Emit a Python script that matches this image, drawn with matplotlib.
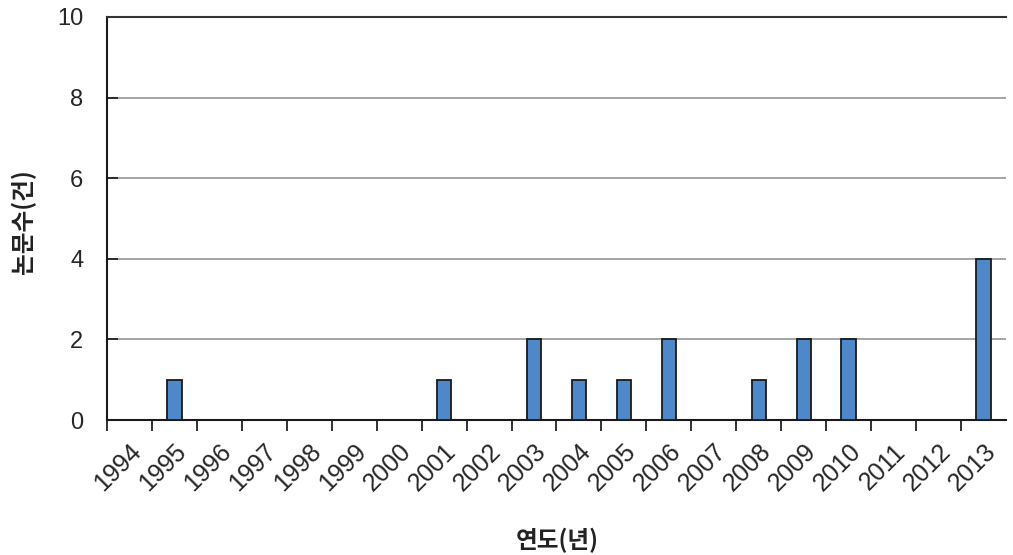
import matplotlib
matplotlib.use("Agg")
import matplotlib.pyplot as plt
import numpy as np

years = [str(y) for y in range(1994, 2014)]
papers = [0, 1, 0, 0, 0, 0, 0, 1, 0, 2, 1, 1, 2, 0, 1, 2, 2, 0, 0, 4]
y_ticks = [0, 2, 4, 6, 8, 10]

latin = ["Liberation Sans", "DejaVu Sans"]
korean = ["Noto Sans CJK KR", "DejaVu Sans"]

fig = plt.figure(figsize=(10.13, 5.55), dpi=100)
ax = fig.add_axes([0.1056, 0.2432, 0.8875, 0.7262])

x = np.arange(len(years))
ax.bar(x, papers, width=0.32, color="#4f88c8", edgecolor="#1a1a1a",
       linewidth=1.3, zorder=3)

ax.set_xlim(-0.5, len(years) - 0.5)
ax.set_ylim(0, 10)

# category boundaries carry the tick marks, labels sit at category centres
ax.set_xticks(np.arange(-0.5, len(years) - 0.5, 1.0))
ax.set_xticklabels([])
ax.set_xticks(x, minor=True)
ax.set_xticklabels(years, minor=True, rotation=45, ha="right",
                   rotation_mode="anchor", family=latin, fontsize=18,
                   color="#262626")
ax.tick_params(axis="x", which="major", direction="out", length=8,
               width=1.3, color="#222222")
ax.tick_params(axis="x", which="minor", length=0, pad=14)

ax.set_yticks(y_ticks)
ax.set_yticklabels([str(v) for v in y_ticks], family=latin, fontsize=17,
                   color="#262626")
ax.tick_params(axis="y", direction="in", length=8, width=1.3,
               color="#222222", pad=17)

ax.grid(axis="y", color="#8c8c8c", linewidth=1.1, zorder=0)
for side in ["left", "bottom"]:
    ax.spines[side].set_color("#1a1a1a")
    ax.spines[side].set_linewidth(1.5)
ax.spines["top"].set_color("#333333")
ax.spines["top"].set_linewidth(1.5)
ax.spines["right"].set_visible(False)

fig.text(0.023, 0.60, "논문수(건)", rotation=90, ha="center", va="center",
         family=korean, fontsize=17, fontweight="bold", color="#222222")
fig.text(0.55, 0.027, "연도(년)", ha="center", va="center",
         family=korean, fontsize=17, fontweight="bold", color="#222222")

fig.savefig("out.png", dpi=100)
